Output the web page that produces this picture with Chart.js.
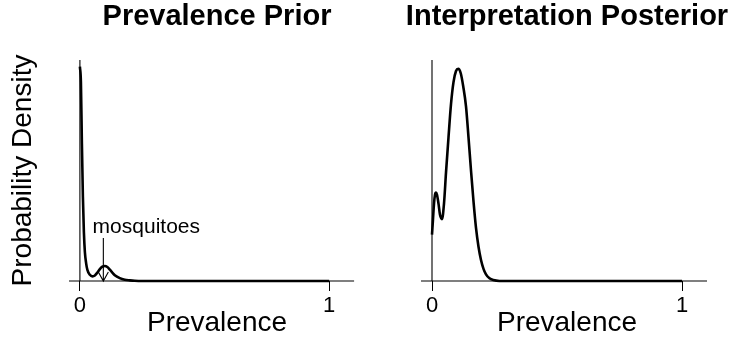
<!DOCTYPE html>
<html>
<head>
<meta charset="utf-8">
<script src="https://cdn.jsdelivr.net/npm/chart.js@4/dist/chart.umd.min.js"></script>
<style>
  body { margin: 0; background: #fff; width: 732px; height: 343px; overflow: hidden; }
  canvas { position: absolute; top: 0; }
  #priorChart { left: 0; }
  #posteriorChart { left: 402px; }
</style>
</head>
<body>
<canvas id="priorChart" width="434" height="343"></canvas>
<canvas id="posteriorChart" width="330" height="343"></canvas>
<script>
      // prevalence prior (density, scaled so 1 = top of y axis)
      const priorX = [0, 0.004, 0.008, 0.012, 0.016, 0.02, 0.025, 0.03, 0.04, 0.05, 0.06, 0.07, 0.08, 0.09, 0.1, 0.11, 0.12, 0.13, 0.14, 0.16, 0.18, 0.2, 0.22, 0.25, 0.3, 0.5, 0.75, 1];
      const priorY = [0.97, 0.9, 0.62, 0.38, 0.22, 0.13, 0.08, 0.05, 0.028, 0.021, 0.025, 0.038, 0.054, 0.065, 0.068, 0.063, 0.051, 0.038, 0.026, 0.013, 0.006, 0.003, 0.001, 0, 0, 0, 0, 0];

      // interpretation posterior
      const postX = [0, 0.004, 0.008, 0.012, 0.016, 0.02, 0.026, 0.032, 0.04, 0.048, 0.056, 0.066, 0.076, 0.086, 0.096, 0.105, 0.115, 0.125, 0.136, 0.146, 0.156, 0.166, 0.176, 0.186, 0.196, 0.206, 0.216, 0.23, 0.245, 0.27, 0.3, 0.5, 0.75, 1];
      const postY = [0.21, 0.28, 0.35, 0.39, 0.4, 0.39, 0.35, 0.3, 0.28, 0.35, 0.49, 0.65, 0.8, 0.9, 0.95, 0.96, 0.94, 0.88, 0.79, 0.65, 0.5, 0.36, 0.24, 0.155, 0.095, 0.055, 0.03, 0.012, 0.004, 0, 0, 0, 0, 0];

      const tickValues = [0, 1];
      const axisLineRange = [-0.044, 1.1];

      // "mosquitoes" marker on the prior
      const mosquitoX = 0.094;
      const mosquitoArrowTop = 0.195;
      const mosquitoLabel = 'mosquitoes';
      const mosquitoLabelX = 0.051;
      const mosquitoLabelY = 0.217;

      Chart.defaults.font.family = '"Liberation Sans", Arial, Helvetica, sans-serif';
      Chart.defaults.color = '#000';

      function toPoints(xs, ys) {
          return xs.map((x, i) => ({ x: x, y: ys[i] }));
      }

      // axis lines drawn at x = 0 and y = 0, like the base R plot
      const axisLines = {
          id: 'axisLines',
          beforeDatasetsDraw(chart) {
              const { ctx, scales: { x, y } } = chart;
              const y0 = y.getPixelForValue(0);
              const x0 = x.getPixelForValue(0);
              ctx.save();
              ctx.strokeStyle = '#000';
              ctx.lineWidth = 1.1;
              ctx.beginPath();
              ctx.moveTo(x.getPixelForValue(axisLineRange[0]), y0);
              ctx.lineTo(x.getPixelForValue(axisLineRange[1]), y0);
              ctx.moveTo(x0, y0);
              ctx.lineTo(x0, y.getPixelForValue(1));
              ctx.stroke();
              ctx.restore();
          }
      };

      const mosquitoArrow = {
          id: 'mosquitoArrow',
          afterDatasetsDraw(chart) {
              const { ctx, scales: { x, y } } = chart;
              const ax = x.getPixelForValue(mosquitoX);
              const top = y.getPixelForValue(mosquitoArrowTop);
              const tip = y.getPixelForValue(0);
              ctx.save();
              ctx.strokeStyle = '#000';
              ctx.lineWidth = 1.1;
              ctx.beginPath();
              ctx.moveTo(ax, top);
              ctx.lineTo(ax, tip);
              ctx.moveTo(ax - 5, tip - 9);
              ctx.lineTo(ax, tip);
              ctx.lineTo(ax + 5, tip - 9);
              ctx.stroke();
              ctx.fillStyle = '#000';
              ctx.font = '21px "Liberation Sans", Arial, sans-serif';
              ctx.textAlign = 'left';
              ctx.textBaseline = 'alphabetic';
              ctx.fillText(mosquitoLabel, x.getPixelForValue(mosquitoLabelX), y.getPixelForValue(mosquitoLabelY));
              ctx.restore();
          }
      };

      function makeChart(canvasId, title, xs, ys, xMin, xMax, withYLabel, extraPlugins) {
          const ctx = document.getElementById(canvasId).getContext('2d');
          const yScale = {
              min: 0,
              max: 1,
              display: withYLabel,
              ticks: { display: false },
              grid: { display: false },
              border: { display: false },
              title: { display: withYLabel, text: 'Probability Density', font: { size: 28 }, color: '#000', padding: { top: 6.5, bottom: 0 } }
          };
          if (withYLabel) {
              yScale.afterFit = scale => { scale.width = 50; };
          }
          return new Chart(ctx, {
              type: 'line',
              data: {
                  datasets: [{
                      data: toPoints(xs, ys),
                      borderColor: '#000',
                      borderWidth: 2.6,
                      pointRadius: 0,
                      fill: false,
                      cubicInterpolationMode: 'monotone',
                      clip: false
                  }]
              },
              options: {
                  responsive: false,
                  animation: false,
                  devicePixelRatio: 1,
                  layout: {
                      padding: withYLabel ? { left: 0, right: 50, top: 0, bottom: 0 } : { left: 2, right: 2, top: 0, bottom: 0 }
                  },
                  plugins: {
                      legend: { display: false },
                      tooltip: { enabled: false },
                      title: {
                          display: true,
                          text: title,
                          fullSize: false,
                          font: { size: 29, weight: 'bold' },
                          color: '#000',
                          padding: { top: 0, bottom: 25.2 }
                      }
                  },
                  scales: {
                      x: {
                          type: 'linear',
                          min: xMin,
                          max: xMax,
                          afterBuildTicks: scale => {
                              scale.ticks = tickValues.map(v => ({ value: v }));
                          },
                          afterFit: scale => { scale.height = 62; },
                          ticks: { font: { size: 22 }, color: '#000', padding: 2, maxRotation: 0 },
                          grid: { display: true, drawOnChartArea: false, drawTicks: true, tickLength: 10, color: '#000', lineWidth: 1 },
                          border: { display: false },
                          title: { display: true, text: 'Prevalence', font: { size: 28 }, color: '#000', padding: { top: 0, bottom: 3 } }
                      },
                      y: yScale
                  }
              },
              plugins: [axisLines].concat(extraPlugins)
          });
      }

      makeChart('priorChart', 'Prevalence Prior', priorX, priorY, -0.12, 1.22, true, [mosquitoArrow]);
      makeChart('posteriorChart', 'Interpretation Posterior', postX, postY, -0.112, 1.192, false, []);
</script>
</body>
</html>
